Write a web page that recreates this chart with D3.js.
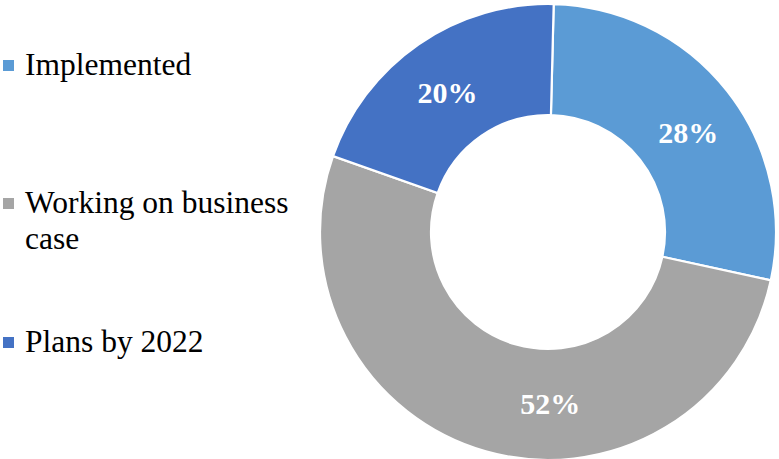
<!DOCTYPE html>
<html>
<head>
<meta charset="utf-8">
<script src="https://cdn.jsdelivr.net/npm/d3@7"></script>
<style>
  html, body { margin: 0; padding: 0; background: #ffffff; }
  svg { display: block; }
  .serif { font-family: "Liberation Serif", "Times New Roman", Times, Tinos, "Noto Serif", "DejaVu Serif", FreeSerif, serif; }
</style>
</head>
<body>
<svg id="chart" width="779" height="459"></svg>
<script>
// Status of adoption, share of respondents (%)
const categories = ["Implemented", "Working on business case", "Plans by 2022"];
const shares = [28, 52, 20];
const colors = ["#5B9BD5", "#A5A5A5", "#4472C4"];
// Legend text, wrapped as it is shown
const legendLines = [["Implemented"], ["Working on business", "case"], ["Plans by 2022"]];

const svg = d3.select("#chart");
const cx = 548, cy = 232;
const outerR = 228, innerR = 117;
const startOffset = 0.025;

const pie = d3.pie()
  .value(d => d.value)
  .sort(null)
  .startAngle(startOffset)
  .endAngle(2 * Math.PI + startOffset);

const data = categories.map((c, i) => ({ name: c, value: shares[i], color: colors[i] }));
const arcs = pie(data);

const arc = d3.arc().innerRadius(innerR).outerRadius(outerR);

const g = svg.append("g").attr("transform", `translate(${cx},${cy})`);

g.selectAll("path.slice")
  .data(arcs)
  .join("path")
  .attr("class", "slice")
  .attr("d", arc)
  .attr("fill", d => d.data.color)
  .attr("stroke", "#ffffff")
  .attr("stroke-width", 2.2);

// Percent labels sit in the ring; the large slice's label is pulled toward the bottom
const labelR = 172;
const labelTurn = [0.05, -0.29, -0.02];
g.selectAll("text.pct")
  .data(arcs)
  .join("text")
  .attr("class", "pct serif")
  .attr("transform", (d, i) => {
    const a = (d.startAngle + d.endAngle) / 2 + labelTurn[i];
    return `translate(${labelR * Math.sin(a)},${-labelR * Math.cos(a)})`;
  })
  .attr("text-anchor", "middle")
  .attr("dy", "0.35em")
  .attr("fill", "#ffffff")
  .attr("font-weight", "bold")
  .attr("font-size", 30)
  .text(d => `${d.data.value}%`);

// Legend
const legendY = [75, 213, 352];
const item = svg.append("g").selectAll("g.item")
  .data(data)
  .join("g")
  .attr("class", "item")
  .attr("transform", (d, i) => `translate(0,${legendY[i]})`);

item.append("rect")
  .attr("x", 3)
  .attr("y", -15)
  .attr("width", 11)
  .attr("height", 11)
  .attr("fill", d => d.color);

item.append("text")
  .attr("class", "serif")
  .attr("x", 25)
  .attr("y", 0)
  .attr("fill", "#000000")
  .attr("font-size", 31.5)
  .selectAll("tspan")
  .data((d, i) => legendLines[i])
  .join("tspan")
  .attr("x", 25)
  .attr("dy", (t, j) => j === 0 ? 0 : 36)
  .text(t => t);
</script>
</body>
</html>
